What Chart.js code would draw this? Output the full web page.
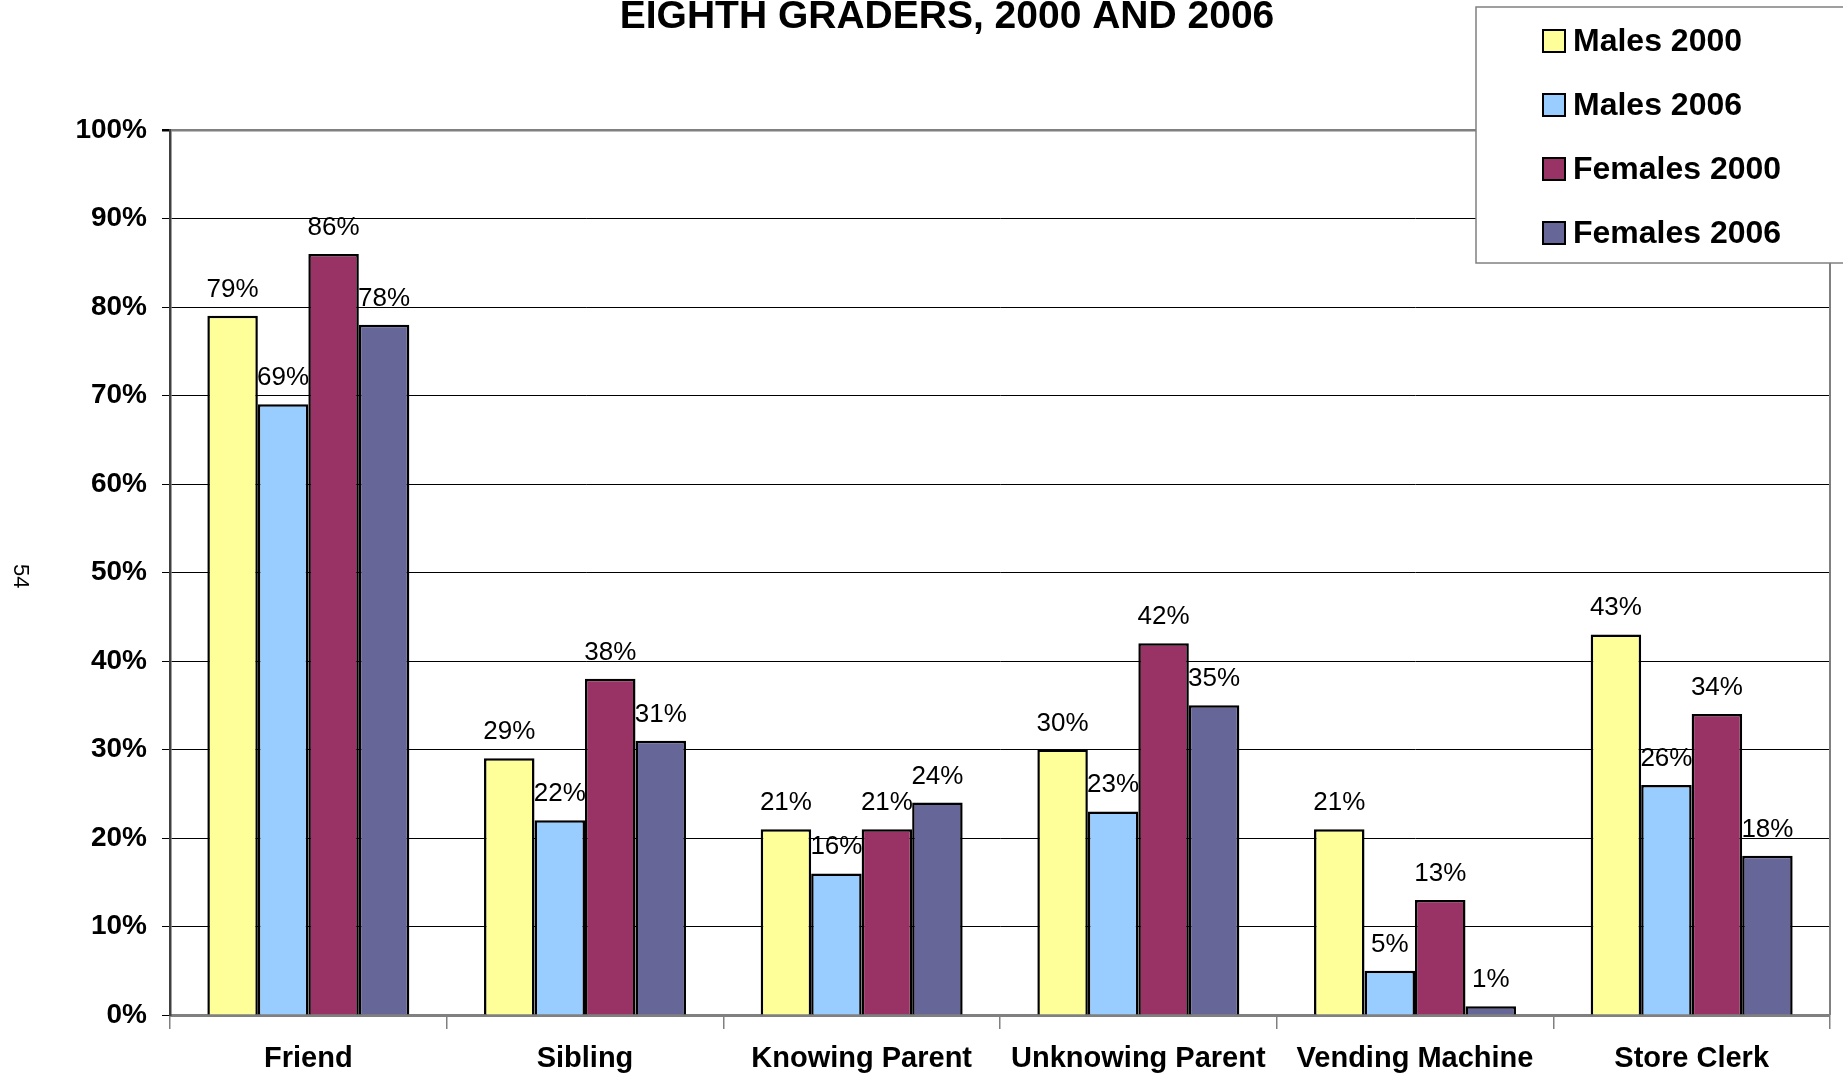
<!DOCTYPE html>
<html>
<head>
<meta charset="utf-8">
<script src="https://cdn.jsdelivr.net/npm/chart.js@4.4.0/dist/chart.umd.min.js"></script>
<style>
html, body { margin: 0; padding: 0; background: #fff; overflow: hidden; }
#wrap { position: relative; width: 1843px; height: 1076px; }
#pageNum {
  position: absolute; left: 9px; top: 564px;
  writing-mode: vertical-rl;
  font: 22px 'Liberation Sans', Arial, sans-serif; line-height: 24px; color: #000;
}
</style>
</head>
<body>
<div id="wrap">
  <canvas id="myChart" width="1843" height="1076"></canvas>
  <div id="pageNum">54</div>
</div>
<script>
var categories = ['Friend', 'Sibling', 'Knowing Parent', 'Unknowing Parent', 'Vending Machine', 'Store Clerk'];
var seriesNames = ['Males 2000', 'Males 2006', 'Females 2000', 'Females 2006'];
var males2000 = [79, 29, 21, 30, 21, 43];
var males2006 = [69, 22, 16, 23, 5, 26];
var females2000 = [86, 38, 21, 42, 13, 34];
var females2006 = [78, 31, 24, 35, 1, 18];
var yTickStep = 10;
var titleText = 'EIGHTH GRADERS, 2000 AND 2006';

var FONT = "'Liberation Sans', Arial, sans-serif";
var colors = ['#FFFF99', '#99CCFF', '#993366', '#666699'];
var seriesValues = [males2000, males2006, females2000, females2006];

// title, legend box, value labels and plot frame
var extras = {
  id: 'extras',
  beforeDatasetsDraw: function(chart) {
    var ctx = chart.ctx, a = chart.chartArea;
    ctx.save();
    ctx.strokeStyle = '#808080';
    ctx.lineWidth = 2;
    ctx.beginPath();
    ctx.moveTo(a.right, a.top);
    ctx.lineTo(a.right, a.bottom);
    ctx.stroke();
    ctx.restore();
  },
  afterDatasetsDraw: function(chart) {
    var ctx = chart.ctx;
    ctx.save();
    ctx.font = '26px ' + FONT;
    ctx.fillStyle = '#000';
    ctx.textAlign = 'center';
    ctx.textBaseline = 'alphabetic';
    chart.data.datasets.forEach(function(ds, i) {
      chart.getDatasetMeta(i).data.forEach(function(bar, j) {
        ctx.fillText(ds.data[j] + '%', bar.x, bar.y - 19);
      });
    });
    ctx.restore();
  },
  afterDraw: function(chart) {
    var ctx = chart.ctx;
    ctx.save();
    // title (top line is off the page)
    ctx.font = 'bold 39px ' + FONT;
    ctx.fillStyle = '#000';
    ctx.textAlign = 'center';
    ctx.textBaseline = 'alphabetic';
    ctx.fillText(titleText, 947, 28);

    // legend
    ctx.fillStyle = '#fff';
    ctx.fillRect(1476, 7, 400, 256);
    ctx.strokeStyle = '#808080';
    ctx.lineWidth = 1.5;
    ctx.strokeRect(1476, 7, 400, 256);
    ctx.font = 'bold 32px ' + FONT;
    ctx.textAlign = 'left';
    ctx.textBaseline = 'middle';
    chart.data.datasets.forEach(function(ds, i) {
      var y = 41 + i * 64;
      ctx.fillStyle = ds.backgroundColor;
      ctx.fillRect(1543, y - 11, 22, 22);
      ctx.strokeStyle = '#000';
      ctx.lineWidth = 2;
      ctx.strokeRect(1543, y - 11, 22, 22);
      ctx.fillStyle = '#000';
      ctx.fillText(ds.label, 1573, y + 1);
    });
    ctx.restore();
  }
};

var ctx = document.getElementById('myChart');
var myChart = new Chart(ctx, {
  type: 'bar',
  data: {
    labels: categories,
    datasets: seriesNames.map(function(name, i) {
      return {
        label: name,
        data: seriesValues[i],
        backgroundColor: colors[i],
        borderColor: '#000',
        borderWidth: 2.5,
        categoryPercentage: 0.73,
        barPercentage: 1.0
      };
    })
  },
  options: {
    responsive: false,
    animation: false,
    devicePixelRatio: 1,
    layout: { padding: { top: 130, right: 13, left: 0, bottom: 0 } },
    plugins: {
      legend: { display: false },
      title: { display: false },
      tooltip: { enabled: false }
    },
    scales: {
      x: {
        afterFit: function(s) { s.height = 61; },
        grid: {
          offset: true,
          drawOnChartArea: false,
          tickLength: 14,
          color: '#808080',
          lineWidth: 1.5
        },
        border: { color: '#808080', width: 3 },
        ticks: {
          color: '#000',
          font: { family: FONT, size: 29, weight: 'bold' },
          padding: 13,
          maxRotation: 0,
          autoSkip: false
        }
      },
      y: {
        min: 0,
        max: 100,
        afterFit: function(s) { s.width = 170; },
        grid: {
          color: function(c) { return c.tick && c.tick.value === 100 ? '#808080' : '#000'; },
          lineWidth: function(c) { return c.tick && c.tick.value === 100 ? 2.5 : 1; },
          tickLength: 8,
          tickColor: '#000'
        },
        border: { color: '#404040', width: 2.5 },
        ticks: {
          stepSize: yTickStep,
          color: '#000',
          font: { family: FONT, size: 28, weight: 'bold' },
          padding: 15,
          callback: function(v) { return v + '%'; }
        }
      }
    }
  },
  plugins: [extras]
});
</script>
</body>
</html>
